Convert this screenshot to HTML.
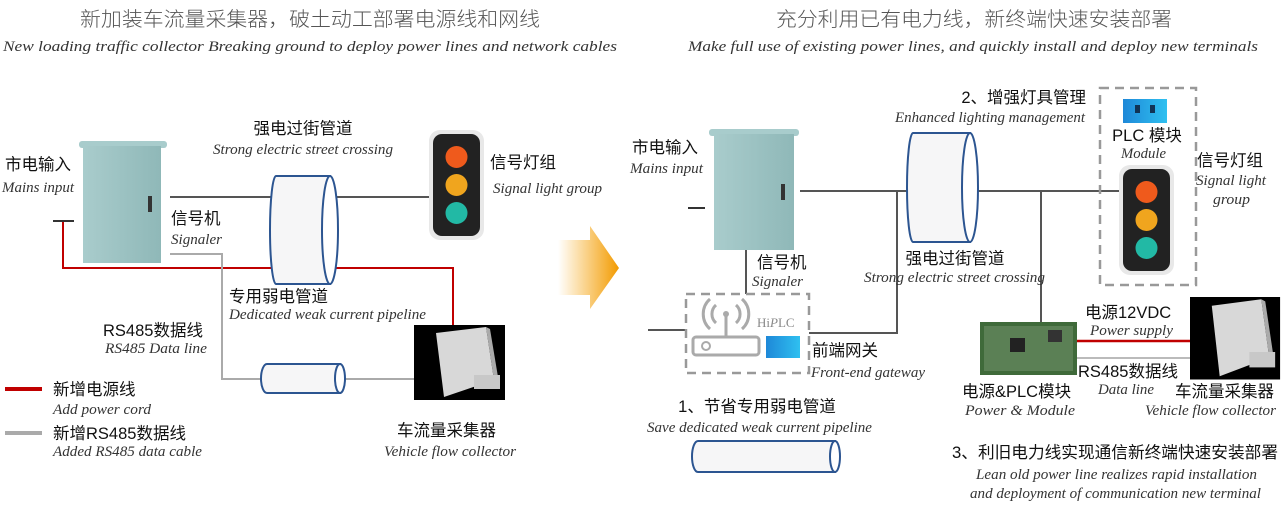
<!DOCTYPE html>
<html><head><meta charset="utf-8"><style>
body{margin:0;background:#fff}
svg{display:block}
.cn{font-family:"Liberation Sans","Noto Sans CJK SC",sans-serif;font-size:16.5px;fill:#111}
.it{font-family:"Liberation Serif",serif;font-style:italic;font-size:15px;fill:#333}
.tt{font-family:"Liberation Sans","Noto Sans CJK SC",sans-serif;font-size:20px;fill:#555;font-weight:300}
</style></head><body>
<svg width="1288" height="514" viewBox="0 0 1288 514" xmlns="http://www.w3.org/2000/svg">
<defs>
<linearGradient id="ar" x1="0" x2="1"><stop offset="0" stop-color="#f5a000" stop-opacity="0"/><stop offset="1" stop-color="#f29a00"/></linearGradient>
<linearGradient id="cab" x1="0" x2="1"><stop offset="0" stop-color="#a9cccc"/><stop offset="1" stop-color="#8fb8b8"/></linearGradient>
<linearGradient id="pl" x1="0" x2="1"><stop offset="0" stop-color="#1e88d8"/><stop offset="1" stop-color="#2fc0f0"/></linearGradient>
<g id="tl"><rect x="0" y="0" width="55" height="110" rx="11" fill="#e8e8e8"/><rect x="4" y="4" width="47" height="102" rx="9" fill="#222"/>
<circle cx="27.5" cy="27" r="11" fill="#ef5a1c"/><circle cx="27.5" cy="55" r="11" fill="#f0a51e"/><circle cx="27.5" cy="83" r="11" fill="#22b9a5"/></g>
<g id="col"><rect width="91" height="75" fill="#000"/><polygon points="22,8 72,2 80,55 30,72" fill="#d8d8d8"/><polygon points="72,2 80,55 84,52 76,4" fill="#aaa"/><rect x="60" y="50" width="26" height="14" fill="#c8c8c8"/></g>
</defs>

<text class="tt" x="80" y="26" textLength="460" lengthAdjust="spacingAndGlyphs">新加装车流量采集器，破土动工部署电源线和网线</text>
<text class="it" x="3" y="51" textLength="614" lengthAdjust="spacingAndGlyphs">New loading traffic collector Breaking ground to deploy power lines and network cables</text>
<text class="tt" x="776" y="26" textLength="396" lengthAdjust="spacingAndGlyphs">充分利用已有电力线，新终端快速安装部署</text>
<text class="it" x="688" y="51" textLength="570" lengthAdjust="spacingAndGlyphs">Make full use of existing power lines, and quickly install and deploy new terminals</text>

<line x1="170" y1="197" x2="432" y2="197" stroke="#555" stroke-width="2"/>
<polyline points="63,222 63,268 453,268 453,325" fill="none" stroke="#c00000" stroke-width="2"/>
<line x1="53" y1="221" x2="74" y2="221" stroke="#333" stroke-width="2"/>
<polyline points="170,254 222,254 222,379 262,379" fill="none" stroke="#aaa" stroke-width="2"/>
<line x1="345" y1="379" x2="415" y2="379" stroke="#aaa" stroke-width="2"/>
<rect x="79" y="141" width="88" height="7" rx="3" fill="#a8cccc"/>
<rect x="83" y="146" width="78" height="117" fill="url(#cab)"/>
<rect x="148" y="196" width="4" height="16" fill="#333"/>
<path d="M276,176 H330 V284 H276 A6,54 0 0 1 276,176Z" fill="#f6f6f7" stroke="#2c5591" stroke-width="2"/>
<ellipse cx="330" cy="230" rx="8" ry="54" fill="#fff" stroke="#2c5591" stroke-width="2"/>
<path d="M267,364 H340 V393 H267 A6,14.5 0 0 1 267,364Z" fill="#f6f6f7" stroke="#2c5591" stroke-width="2"/>
<ellipse cx="340" cy="378.5" rx="5" ry="14.5" fill="#fff" stroke="#2c5591" stroke-width="2"/>
<use href="#tl" x="429" y="130"/>
<use href="#col" x="414" y="325"/>

<text class="cn" x="5" y="170">市电输入</text>
<text class="it" x="2" y="192" textLength="72" lengthAdjust="spacingAndGlyphs">Mains input</text>
<text class="cn" x="303" y="134" text-anchor="middle">强电过街管道</text>
<text class="it" x="213" y="154" textLength="180" lengthAdjust="spacingAndGlyphs">Strong electric street crossing</text>
<text class="cn" x="490" y="168">信号灯组</text>
<text class="it" x="493" y="193" textLength="109" lengthAdjust="spacingAndGlyphs">Signal light group</text>
<text class="cn" x="171" y="224">信号机</text>
<text class="it" x="171" y="244" textLength="51" lengthAdjust="spacingAndGlyphs">Signaler</text>
<text class="cn" x="229" y="302">专用弱电管道</text>
<text class="it" x="229" y="319" textLength="197" lengthAdjust="spacingAndGlyphs">Dedicated weak current pipeline</text>
<text class="cn" x="103" y="336">RS485数据线</text>
<text class="it" x="105" y="353" textLength="102" lengthAdjust="spacingAndGlyphs">RS485  Data line</text>
<line x1="5" y1="389" x2="42" y2="389" stroke="#c00000" stroke-width="4"/>
<text class="cn" x="53" y="395">新增电源线</text>
<text class="it" x="53" y="414" textLength="98" lengthAdjust="spacingAndGlyphs">Add power cord</text>
<line x1="5" y1="433" x2="42" y2="433" stroke="#aaa" stroke-width="4"/>
<text class="cn" x="53" y="439">新增RS485数据线</text>
<text class="it" x="53" y="456" textLength="149" lengthAdjust="spacingAndGlyphs">Added RS485 data cable</text>
<text class="cn" x="397" y="436">车流量采集器</text>
<text class="it" x="384" y="456" textLength="132" lengthAdjust="spacingAndGlyphs">Vehicle flow collector</text>

<polygon points="558,240 590,240 590,226 619,268 590,309 590,295 558,295" fill="url(#ar)"/>

<line x1="800" y1="191" x2="1120" y2="191" stroke="#555" stroke-width="2"/>
<polyline points="897,191 897,333 809,333" fill="none" stroke="#555" stroke-width="2"/>
<line x1="1041" y1="191" x2="1041" y2="322" stroke="#555" stroke-width="2"/>
<line x1="746" y1="250" x2="746" y2="294" stroke="#555" stroke-width="2"/>
<line x1="648" y1="330" x2="686" y2="330" stroke="#555" stroke-width="2"/>
<line x1="688" y1="208" x2="705" y2="208" stroke="#333" stroke-width="2"/>
<rect x="709" y="129" width="90" height="7" rx="3" fill="#a8cccc"/>
<rect x="714" y="134" width="80" height="116" fill="url(#cab)"/>
<rect x="781" y="184" width="4" height="16" fill="#333"/>
<path d="M913,133 H970 V242 H913 A6,54.5 0 0 1 913,133Z" fill="#f6f6f7" stroke="#2c5591" stroke-width="2"/>
<ellipse cx="970" cy="187.5" rx="8" ry="54.5" fill="#fff" stroke="#2c5591" stroke-width="2"/>
<rect x="686" y="294" width="123" height="79" fill="none" stroke="#999" stroke-width="2.5" stroke-dasharray="9,6"/>
<g fill="none" stroke="#aaa" stroke-width="3">
<rect x="693" y="337" width="66" height="18" rx="3"/><line x1="726" y1="314" x2="726" y2="337"/>
<path d="M716,305 a12,12 0 0 0 0,18 M736,305 a12,12 0 0 1 0,18 M710,299 a20,20 0 0 0 0,30 M742,299 a20,20 0 0 1 0,30"/>
</g>
<circle cx="726" cy="314" r="3" fill="#aaa"/><circle cx="706" cy="346" r="4" fill="none" stroke="#aaa" stroke-width="2"/>
<text x="757" y="327" font-family="Liberation Serif,serif" font-size="13" fill="#888">Hi<tspan font-style="italic">P</tspan>LC</text>
<rect x="766" y="336" width="34" height="22" fill="url(#pl)"/>
<rect x="1100" y="88" width="96" height="197" fill="none" stroke="#999" stroke-width="2.5" stroke-dasharray="9,6"/>
<rect x="1123" y="99" width="44" height="24" fill="url(#pl)"/><rect x="1135" y="105" width="5" height="8" fill="#135"/><rect x="1150" y="105" width="5" height="8" fill="#135"/>
<use href="#tl" x="1119" y="165"/>
<rect x="980" y="322" width="97" height="53" fill="#3f6a3a"/>
<rect x="984" y="326" width="89" height="45" fill="#5b8055"/>
<rect x="1010" y="338" width="15" height="14" fill="#222"/><rect x="1048" y="330" width="14" height="12" fill="#333"/>
<line x1="1077" y1="341" x2="1190" y2="341" stroke="#c00000" stroke-width="2.5"/>
<line x1="1077" y1="358" x2="1190" y2="358" stroke="#bbb" stroke-width="2"/>
<use href="#col" transform="translate(1190,297) scale(0.99,1.1)"/>
<path d="M698,441 H835 V472 H698 A6,15.5 0 0 1 698,441Z" fill="#f6f6f7" stroke="#2c5591" stroke-width="2"/>
<ellipse cx="835" cy="456.5" rx="5" ry="15.5" fill="#fff" stroke="#2c5591" stroke-width="2"/>

<text class="cn" x="632" y="153">市电输入</text>
<text class="it" x="630" y="173" textLength="73" lengthAdjust="spacingAndGlyphs">Mains input</text>
<text class="cn" x="1086" y="103" text-anchor="end">2、增强灯具管理</text>
<text class="it" x="895" y="122" textLength="190" lengthAdjust="spacingAndGlyphs">Enhanced lighting management</text>
<text class="cn" x="1147" y="141" text-anchor="middle">PLC 模块</text>
<text class="it" x="1121" y="158" textLength="45" lengthAdjust="spacingAndGlyphs">Module</text>
<text class="cn" x="1197" y="166">信号灯组</text>
<text class="it" x="1196" y="185" textLength="70" lengthAdjust="spacingAndGlyphs">Signal light</text>
<text class="it" x="1213" y="204" textLength="37" lengthAdjust="spacingAndGlyphs">group</text>
<text class="cn" x="757" y="268">信号机</text>
<text class="it" x="752" y="286" textLength="51" lengthAdjust="spacingAndGlyphs">Signaler</text>
<text class="cn" x="955" y="264" text-anchor="middle">强电过街管道</text>
<text class="it" x="864" y="282" textLength="181" lengthAdjust="spacingAndGlyphs">Strong electric street crossing</text>
<text class="cn" x="812" y="356">前端网关</text>
<text class="it" x="811" y="377" textLength="114" lengthAdjust="spacingAndGlyphs">Front-end gateway</text>
<text class="cn" x="1085" y="318">电源12VDC</text>
<text class="it" x="1090" y="335" textLength="83" lengthAdjust="spacingAndGlyphs">Power supply</text>
<text class="cn" x="1078" y="377">RS485数据线</text>
<text class="it" x="1098" y="394" textLength="56" lengthAdjust="spacingAndGlyphs">Data line</text>
<text class="cn" x="962" y="397">电源&amp;PLC模块</text>
<text class="it" x="965" y="415" textLength="110" lengthAdjust="spacingAndGlyphs">Power &amp;  Module</text>
<text class="cn" x="1175" y="397">车流量采集器</text>
<text class="it" x="1145" y="415" textLength="131" lengthAdjust="spacingAndGlyphs">Vehicle flow collector</text>
<text class="cn" x="757" y="412" text-anchor="middle">1、节省专用弱电管道</text>
<text class="it" x="647" y="432" textLength="225" lengthAdjust="spacingAndGlyphs">Save dedicated weak current pipeline</text>
<text class="cn" x="952" y="458" textLength="326" lengthAdjust="spacingAndGlyphs">3、利旧电力线实现通信新终端快速安装部署</text>
<text class="it" x="976" y="479" textLength="281" lengthAdjust="spacingAndGlyphs">Lean old power line realizes rapid installation</text>
<text class="it" x="970" y="498" textLength="291" lengthAdjust="spacingAndGlyphs">and deployment of communication new terminal</text>
</svg>
</body></html>
